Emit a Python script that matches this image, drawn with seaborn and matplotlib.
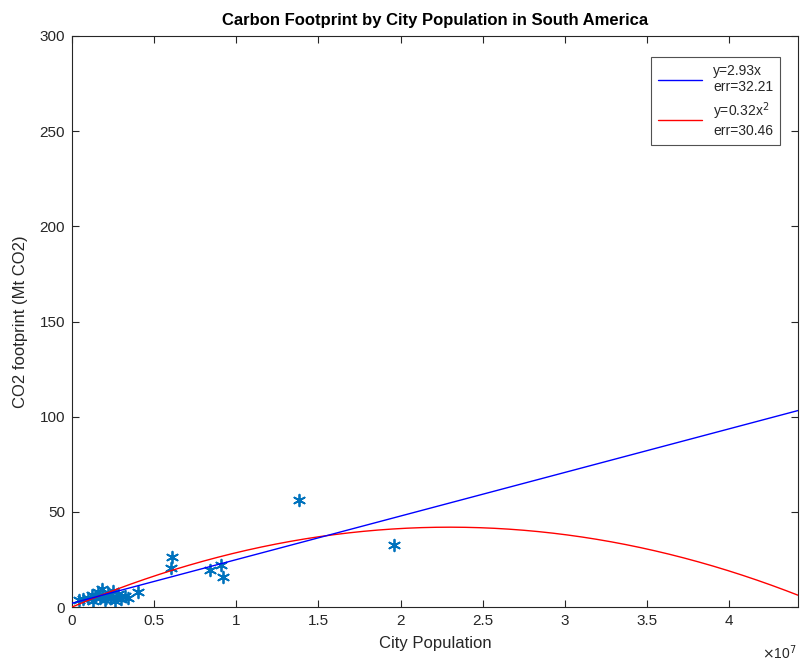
import numpy as np
import pandas as pd
import matplotlib
matplotlib.use("Agg")
import matplotlib.pyplot as plt
import seaborn as sns

# City populations (units of 1e7) and CO2 footprint (Mt CO2)
population = [0.04, 0.07, 0.10, 0.12, 0.14, 0.16, 0.18, 0.19, 0.21, 0.22, 0.24,
              0.25, 0.27, 0.28, 0.30, 0.32, 0.34, 0.13, 0.17, 0.20, 0.26, 0.40,
              0.60, 0.61, 0.84, 0.91, 0.92, 1.38, 1.96]
footprint = [3.5, 4.0, 5.0, 6.5, 5.5, 8.0, 9.5, 6.0, 5.0, 7.5, 4.5,
             8.5, 5.5, 7.0, 4.0, 6.0, 5.0, 3.0, 4.5, 3.5, 3.0, 7.9,
             20.5, 26.3, 19.4, 22.0, 15.8, 56.0, 32.6]

# Fit coefficients (y in Mt, x in units of 1e7)
lin_coef = [2.0, 22.9]          # intercept, slope
quad_coef = [0.0, 36.5, -7.94]  # c0, c1, c2
lin_label = "y=2.93x\nerr=32.21"
quad_label = "y=0.32x$^2$\nerr=30.46"

x_ticks = [0, 0.5, 1, 1.5, 2, 2.5, 3, 3.5, 4]
y_ticks = [0, 50, 100, 150, 200, 250, 300]
x_max = 4.42

sns.set_theme(style="white")
plt.rcParams['font.family'] = ['Liberation Sans', 'DejaVu Sans']

fig = plt.figure(figsize=(8, 6.64), dpi=100)
ax = fig.add_axes([0.09, 0.0858, 0.9075, 0.86])

pts = pd.DataFrame({"x": np.array(population), "y": footprint})
sns.scatterplot(data=pts, x="x", y="y", ax=ax, marker=(6, 2, 0), s=70,
                color="#0072BD", edgecolor="#0072BD", linewidth=1.3, zorder=2)

xs = np.linspace(0, x_max, 300)
lin = pd.DataFrame({"x": xs, "y": lin_coef[0] + lin_coef[1] * xs})
quad = pd.DataFrame({"x": xs, "y": quad_coef[0] + quad_coef[1] * xs + quad_coef[2] * xs ** 2})
sns.lineplot(data=quad, x="x", y="y", ax=ax, color="#FF0000", linewidth=1.0, zorder=3)
sns.lineplot(data=lin, x="x", y="y", ax=ax, color="#0000FF", linewidth=1.0, zorder=4)

ax.set_xlim(0, x_max)
ax.set_ylim(0, 300)
ax.set_xticks(x_ticks)
ax.set_xticklabels([f"{t:g}" for t in x_ticks])
ax.set_yticks(y_ticks)
ax.set_yticklabels([str(t) for t in y_ticks])
ax.tick_params(direction="in", length=5, width=0.8, colors="#262626", labelsize=11,
               top=True, right=True, bottom=True, left=True, pad=5)
for sp in ax.spines.values():
    sp.set_color("#262626")
    sp.set_linewidth(0.8)

ax.set_xlabel("City Population", fontsize=12, color="#262626", labelpad=6)
ax.set_ylabel("CO2 footprint (Mt CO2)", fontsize=12, color="#262626", labelpad=8)
ax.set_title("Carbon Footprint by City Population in South America", fontsize=12,
             fontweight="bold", color="#000000", pad=8)
ax.text(0.998, -0.064, r"$\times$10$^7$", transform=ax.transAxes, ha="right", va="top",
        fontsize=10, color="#262626")

handles = ax.get_lines()
leg = ax.legend([handles[1], handles[0]], [lin_label, quad_label], loc="upper right",
                fontsize=10, frameon=True, fancybox=False, handlelength=3.2,
                borderpad=0.5, labelspacing=0.45, bbox_to_anchor=(0.985, 0.975))
leg.get_frame().set_edgecolor("#262626")
leg.get_frame().set_linewidth(0.8)

fig.savefig("out.png", dpi=100, facecolor="white")
